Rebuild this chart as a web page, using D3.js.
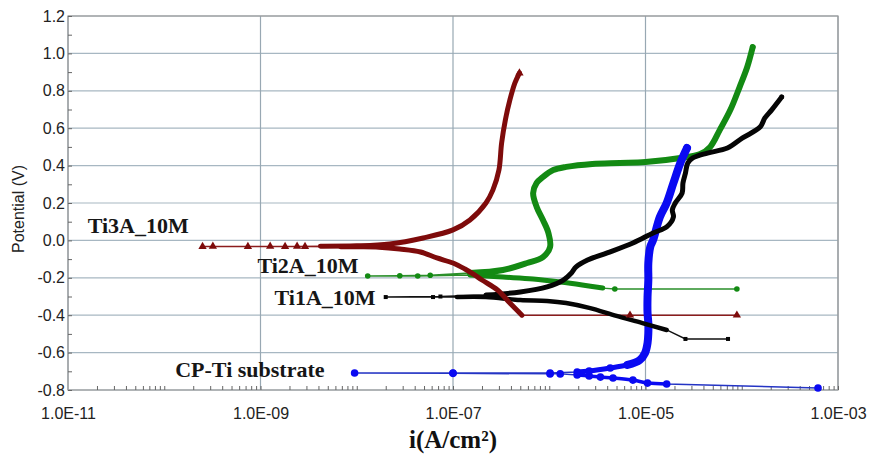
<!DOCTYPE html>
<html>
<head>
<meta charset="utf-8">
<script src="https://cdn.jsdelivr.net/npm/d3@7"></script>
<style>
  body { margin: 0; background: #fff; }
  svg { display: block; }
</style>
</head>
<body>
<svg id="chart" width="872" height="462"></svg>
<script>
// Potentiodynamic polarization curves: potential (V) against current density (A/cm²)

// Axis ticks
const xTickValues = [1e-11, 1e-9, 1e-7, 1e-5, 1e-3];
const xTickLabels = ["1.0E-11", "1.0E-09", "1.0E-07", "1.0E-05", "1.0E-03"];
const yTickValues = [-0.8, -0.6, -0.4, -0.2, 0.0, 0.2, 0.4, 0.6, 0.8, 1.0, 1.2];
const yTickLabels = ["-0.8", "-0.6", "-0.4", "-0.2", "0.0", "0.2", "0.4", "0.6", "0.8", "1.0", "1.2"];

// Ti3A_10M, scanned from cathodic to anodic
const ti3aCurrent = [8.9e-5, 6.9e-6, 5.2e-7, 3.9e-7, 2.9e-7, 2.0e-7, 1.66e-7, 1.33e-7, 1.0e-7, 6.8e-8,
  4.6e-8, 2.8e-8, 1.7e-8, 1.07e-8, 6.8e-9, 2.9e-9, 1.8e-9, 7.4e-10, 2.5e-10, 3.2e-10,
  1.26e-9, 2.4e-9, 4.2e-9, 1.0e-8, 2.2e-8, 4.9e-8, 1.0e-7, 1.5e-7, 2.2e-7, 2.6e-7,
  3.0e-7, 3.2e-7, 3.5e-7, 3.9e-7, 4.4e-7, 4.9e-7];
const ti3aPotential = [-0.400, -0.400, -0.400, -0.335, -0.265, -0.212, -0.183, -0.153, -0.121, -0.094,
  -0.062, -0.046, -0.036, -0.034, -0.034, -0.033, -0.033, -0.033, -0.033, -0.032,
  -0.032, -0.032, -0.031, -0.029, -0.019, 0.013, 0.056, 0.109, 0.200, 0.270,
  0.376, 0.521, 0.644, 0.751, 0.842, 0.895];

// Ti2A_10M
const ti2aCurrent = [8.9e-5, 4.8e-6, 3.6e-6, 2.2e-6, 1.3e-6, 6.8e-7, 3.3e-7, 1.5e-7, 4.3e-8, 1.3e-8,
  2.8e-8, 5.8e-8, 1.5e-7, 3.3e-7, 5.9e-7, 8.6e-7, 1.02e-6, 9.8e-7, 8.6e-7, 7.4e-7,
  6.8e-7, 7.4e-7, 8.6e-7, 1.1e-6, 1.5e-6, 2.8e-6, 5.4e-6, 1.0e-5, 2.3e-5, 3.7e-5,
  4.7e-5, 5.9e-5, 7.6e-5, 9.5e-5, 1.14e-4, 1.3e-4];
const ti2aPotential = [-0.260, -0.260, -0.255, -0.238, -0.222, -0.206, -0.196, -0.185, -0.190, -0.190,
  -0.189, -0.186, -0.174, -0.158, -0.121, -0.089, -0.035, 0.040, 0.109, 0.179,
  0.253, 0.307, 0.339, 0.376, 0.393, 0.409, 0.414, 0.419, 0.441, 0.462,
  0.500, 0.590, 0.697, 0.820, 0.927, 1.034];

// Ti1A_10M
const ti1aCurrent = [7.2e-5, 2.6e-5, 1.66e-5, 9.3e-6, 5.0e-6, 2.6e-6, 1.5e-6, 9.5e-7, 5.0e-7, 2.2e-7,
  1.1e-7, 6.2e-8, 2.0e-8, 7.4e-8, 2.2e-7, 5.0e-7, 9.5e-7, 1.4e-6, 1.7e-6, 1.9e-6,
  2.5e-6, 4.0e-6, 7.4e-6, 1.2e-5, 1.66e-5, 1.95e-5, 1.9e-5, 2.04e-5, 2.4e-5, 2.45e-5,
  2.6e-5, 2.75e-5, 3.1e-5, 4.4e-5, 7.1e-5, 1.02e-4, 1.55e-4, 1.74e-4, 2.04e-4, 2.6e-4];
const ti1aPotential = [-0.527, -0.527, -0.479, -0.442, -0.404, -0.361, -0.335, -0.324, -0.319, -0.303,
  -0.303, -0.303, -0.303, -0.300, -0.292, -0.276, -0.249, -0.212, -0.174, -0.142,
  -0.105, -0.067, -0.014, 0.040, 0.072, 0.125, 0.163, 0.200, 0.253, 0.307,
  0.360, 0.414, 0.441, 0.467, 0.494, 0.548, 0.606, 0.655, 0.697, 0.767];

// CP-Ti substrate
const cpTiCurrent = [6.2e-4, 1.66e-5, 1.05e-5, 7.4e-6, 4.6e-6, 3.4e-6, 2.6e-6, 1.95e-6, 1.3e-6, 1.02e-6,
  1.0e-7, 9.5e-9, 1.0e-7, 1.02e-6, 1.95e-6, 2.6e-6, 4.3e-6, 6.5e-6, 8.7e-6, 9.9e-6,
  1.05e-5, 1.07e-5, 1.07e-5, 1.05e-5, 1.05e-5, 1.07e-5, 1.07e-5, 1.12e-5, 1.2e-5, 1.41e-5,
  1.66e-5, 1.95e-5, 2.3e-5, 2.7e-5];
const cpTiPotential = [-0.789, -0.768, -0.763, -0.747, -0.736, -0.731, -0.725, -0.720, -0.714, -0.714,
  -0.711, -0.709, -0.709, -0.709, -0.704, -0.698, -0.682, -0.666, -0.640, -0.602,
  -0.549, -0.495, -0.442, -0.388, -0.303, -0.212, -0.121, -0.035, 0.002, 0.125,
  0.200, 0.307, 0.414, 0.494];

const seriesNames = ["Ti3A_10M", "Ti2A_10M", "Ti1A_10M", "CP-Ti substrate"];

// ---------------------------------------------------------------------------
const svg = d3.select("#chart");
const W = 872, H = 462;
const margin = { left: 68, right: 34, top: 16, bottom: 72 };
const x = d3.scaleLog().domain([1e-11, 1e-3]).range([margin.left, W - margin.right]);
const y = d3.scaleLinear().domain([-0.8, 1.2]).range([H - margin.bottom, margin.top]);
const [x0, x1] = x.range();
const [y0, y1] = y.range();

const toPoints = (cur, pot) => cur.map((c, k) => ({ i: c, e: pot[k], k }));

// Dense stretches of each scan are drawn as a heavy stroke: [from, to, width, keepMarkers]
const series = [
  { name: seriesNames[1], pts: toPoints(ti2aCurrent, ti2aPotential), color: "#138a13", thin: "#2a8f2a",
    marker: "circle", msize: 2.8, dense: [[2, 7, 5, false], [12, 35, 6, false]] },
  { name: seriesNames[3], pts: toPoints(cpTiCurrent, cpTiPotential), color: "#0a0af2", thin: "#2434c4",
    marker: "circle", msize: 3.8, dense: [[1, 7, 3.5, true], [14, 17, 5, true], [17, 33, 8, false]] },
  { name: seriesNames[2], pts: toPoints(ti1aCurrent, ti1aPotential), color: "#050505", thin: "#111",
    marker: "square", msize: 4, dense: [[2, 10, 4.5, false], [14, 39, 5, false]] },
  { name: seriesNames[0], pts: toPoints(ti3aCurrent, ti3aPotential), color: "#7e0b0b", thin: "#8c1c1c",
    marker: "triangle", msize: 30, dense: [[2, 14, 5, false], [22, 35, 5, false]] }
];

// Grid
const grid = svg.append("g").attr("class", "grid");
grid.selectAll("line.h").data(yTickValues).join("line")
  .attr("x1", x0).attr("x2", x1)
  .attr("y1", d => y(d)).attr("y2", d => y(d))
  .attr("stroke", "#a7b7c2").attr("stroke-width", 1.2);
grid.selectAll("line.v").data(xTickValues).join("line")
  .attr("y1", y0).attr("y2", y1)
  .attr("x1", d => x(d)).attr("x2", d => x(d))
  .attr("stroke", "#98a8b3").attr("stroke-width", 1.2);

// Frame
svg.append("rect").attr("x", x0).attr("y", y1).attr("width", x1 - x0).attr("height", y0 - y1)
  .attr("fill", "none").attr("stroke", "#9a9a9a").attr("stroke-width", 1.2);

// Minor ticks on the current axis (log decades)
const xMinor = [];
for (let k = -11; k < -3; k++) for (let m = 2; m <= 10; m++) xMinor.push(m * Math.pow(10, k));
const xAxisMinor = d3.axisBottom(x).tickValues(xMinor).tickSize(-4).tickFormat("");
const gxm = svg.append("g").attr("transform", `translate(0,${y0})`).call(xAxisMinor);
gxm.select(".domain").remove();
gxm.selectAll(".tick line").attr("stroke", "#666");

// Minor ticks on the potential axis
const yMinor = d3.range(-8, 13, 1).map(v => v / 10);
const yAxisMinor = d3.axisLeft(y).tickValues(yMinor).tickSize(-4).tickFormat("");
const gym = svg.append("g").attr("transform", `translate(${x0},0)`).call(yAxisMinor);
gym.select(".domain").remove();
gym.selectAll(".tick line").attr("stroke", "#666");

// Axis labels
const xAxis = d3.axisBottom(x).tickValues(xTickValues).tickSize(0).tickPadding(18)
  .tickFormat((d, k) => xTickLabels[k]);
const gx = svg.append("g").attr("transform", `translate(0,${y0})`).call(xAxis);
gx.select(".domain").remove();
gx.selectAll("text").attr("font-family", "Liberation Sans, Arial, sans-serif")
  .attr("font-size", 16).attr("fill", "#222");

const yAxis = d3.axisLeft(y).tickValues(yTickValues).tickSize(0).tickPadding(3)
  .tickFormat((d, k) => yTickLabels[k]);
const gy = svg.append("g").attr("transform", `translate(${x0},0)`).call(yAxis);
gy.select(".domain").remove();
gy.selectAll("text").attr("font-family", "Liberation Sans, Arial, sans-serif")
  .attr("font-size", 16).attr("fill", "#222");

// Axis titles
svg.append("text").attr("transform", `translate(24,${(y0 + y1) / 2 + 6}) rotate(-90)`)
  .attr("text-anchor", "middle").attr("font-family", "Liberation Sans, Arial, sans-serif")
  .attr("font-size", 16).attr("fill", "#222").text("Potential (V)");

svg.append("text").attr("x", (x0 + x1) / 2).attr("y", 448)
  .attr("text-anchor", "middle").attr("font-family", "Liberation Serif, 'Times New Roman', serif")
  .attr("font-weight", "bold").attr("font-size", 25).attr("fill", "#111")
  .text("i(A/cm²)");

// Curves
const lineThin = d3.line().x(d => x(d.i)).y(d => y(d.e));
const lineThick = d3.line().x(d => x(d.i)).y(d => y(d.e)).curve(d3.curveCatmullRom.alpha(0.5));
const plot = svg.append("g");

series.forEach(s => {
  plot.append("path").attr("d", lineThin(s.pts)).attr("fill", "none")
    .attr("stroke", s.thin).attr("stroke-width", 1.4);
});

series.forEach(s => {
  const g = plot.append("g");
  s.dense.forEach(([a, b, w]) => {
    g.append("path").attr("d", lineThick(s.pts.slice(a, b + 1))).attr("fill", "none")
      .attr("stroke", s.color).attr("stroke-width", w)
      .attr("stroke-linecap", "round").attr("stroke-linejoin", "round");
  });
  const last = s.pts.length - 1;
  const shown = s.pts.filter(p => p.k === last ||
    !s.dense.some(([a, b, w, keep]) => !keep && p.k >= a && p.k <= b));
  const sym = d3.symbol(d3.symbolTriangle, s.msize);
  const m = g.selectAll(".m").data(shown);
  if (s.marker === "circle") {
    m.join("circle").attr("cx", d => x(d.i)).attr("cy", d => y(d.e)).attr("r", s.msize).attr("fill", s.color);
  } else if (s.marker === "square") {
    m.join("rect").attr("x", d => x(d.i) - s.msize / 2).attr("y", d => y(d.e) - s.msize / 2)
      .attr("width", s.msize).attr("height", s.msize).attr("fill", s.color);
  } else {
    m.join("path").attr("d", sym).attr("transform", d => `translate(${x(d.i)},${y(d.e)})`)
      .attr("fill", s.color);
  }
});

// Series labels, anchored in data space next to each curve's start
const labelAnchors = [
  { text: seriesNames[0], i: 1.6e-11, e: 0.04 },
  { text: seriesNames[1], i: 9.3e-10, e: -0.174 },
  { text: seriesNames[2], i: 1.4e-9, e: -0.345 },
  { text: seriesNames[3], i: 1.3e-10, e: -0.73 }
];
svg.append("g").selectAll("text").data(labelAnchors).join("text")
  .attr("x", d => x(d.i)).attr("y", d => y(d.e))
  .attr("font-family", "Liberation Serif, 'Times New Roman', serif")
  .attr("font-weight", "bold").attr("font-size", 22).attr("fill", "#161616")
  .text(d => d.text);
</script>
</body>
</html>
